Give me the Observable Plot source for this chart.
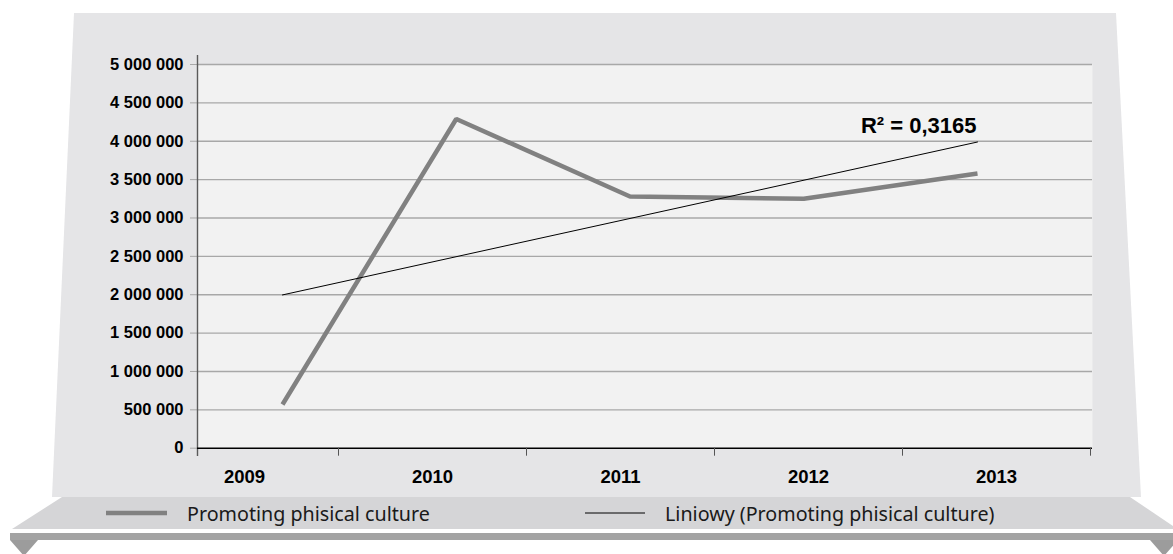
<!DOCTYPE html>
<html>
<head>
<meta charset="utf-8">
<script src="https://cdn.jsdelivr.net/npm/d3@7"></script>
<script src="https://cdn.jsdelivr.net/npm/@observablehq/plot@0.6"></script>
<style>
  html, body { margin: 0; padding: 0; background: #ffffff; }
  #wrap { position: relative; width: 1173px; height: 554px; overflow: hidden; }
  #bg, .layer { position: absolute; left: 0; top: 0; }
  .legend-item { position: absolute; top: 500px; height: 26px; display: flex; align-items: center;
    font-family: "Noto Sans", "Open Sans", sans-serif; font-size: 19.7px; color: #1a1a1a; white-space: nowrap; }
</style>
</head>
<body>
<div id="wrap">
  <svg id="bg" width="1173" height="554">
    <polygon points="74,13 1116,13 1141,497 52,497" fill="#e5e5e7"/>
    <polygon points="62,497 1130,497 1173,526 1173,529 12,529" fill="#d5d5d7"/>
    <rect x="10" y="533" width="1163" height="7" fill="#a3a3a3"/>
    <polygon points="10,540 38,540 24,556" fill="#9c9c9c"/>
    <polygon points="1150,540 1178,540 1164,556" fill="#9c9c9c"/>
  </svg>
</div>
<script>
// ---- data ----
const years = [2009, 2010, 2011, 2012, 2013];
const values = [569000, 4290000, 3280000, 3250000, 3580000];
const yTicks = [0, 500000, 1000000, 1500000, 2000000, 2500000, 3000000, 3500000, 4000000, 4500000, 5000000];
const r2 = 0.3165;
const seriesName = "Promoting phisical culture";
const trendName = "Liniowy (Promoting phisical culture)";

const data = years.map((year, i) => ({year, value: values[i]}));

// ---- layout ----
const W = 1173, H = 497;
const margins = {marginTop: 64, marginBottom: 49.3, marginLeft: 197, marginRight: 81};
const loc = d3.formatLocale({thousands: " ", grouping: [3], decimal: ",", currency: ["", ""]});
const fmt = loc.format(",");
const fmtR2 = loc.format(".4f");

// axis layer: category bands of one year each
const xAxisDomain = [2008.5, 2013.5];
const xAxisRange = [150, 1090];
const xAxisScale = d3.scaleLinear(xAxisDomain, xAxisRange);
const yAxisAt = xAxisScale.invert(margins.marginLeft);
const boundaries = years.map(y => y + 0.5);

const axes = Plot.plot({
  width: W, height: H, ...margins,
  style: {background: "transparent", color: "black", fontFamily: "'Liberation Sans', Arial, sans-serif"},
  x: {domain: xAxisDomain, range: xAxisRange},
  y: {domain: [0, 5000000]},
  marks: [
    Plot.frame({fill: "#f2f2f2", stroke: null}),
    Plot.ruleY(yTicks.filter(d => d > 0), {stroke: "#a8a8a8", strokeWidth: 1.4}),
    Plot.axisY({ticks: yTicks, tickSize: 7, tickPadding: 7, tickFormat: fmt, stroke: "#a8a8a8",
      fontSize: 16.5, fontWeight: "bold", fill: "black"}),
    Plot.ruleX([yAxisAt], {stroke: "#5a5a5a", strokeWidth: 1.4, insetTop: -9, insetBottom: -8.3}),
    Plot.ruleY([0], {stroke: "black", strokeWidth: 1.5}),
    Plot.axisX({ticks: boundaries, tickSize: 8, tickFormat: () => "", stroke: "#555"}),
    Plot.axisX({ticks: years, tickSize: 0, tickPadding: 22, tickFormat: d => String(d),
      fontSize: 18.5, fontWeight: "bold", fill: "black"})
  ]
});
axes.classList.add("layer");

// data layer
const n = years.length;
const mx = d3.mean(years), my = d3.mean(values);
const slope = d3.sum(years, (x, i) => (x - mx) * (values[i] - my)) / d3.sum(years, x => (x - mx) ** 2);
const intercept = my - slope * mx;
const lastYear = years[n - 1];
const labelData = [{year: lastYear, value: intercept + slope * lastYear, text: "R\u00B2 = " + fmtR2(r2)}];

const lines = Plot.plot({
  width: W, height: H, ...margins,
  style: {background: "transparent", fontFamily: "'Liberation Sans', Arial, sans-serif"},
  x: {domain: [2009, 2013], range: [282, 977], axis: null},
  y: {domain: [0, 5000000], axis: null},
  marks: [
    Plot.line(data, {x: "year", y: "value", stroke: "#818181", strokeWidth: 4.5,
      strokeLinejoin: "miter", strokeLinecap: "butt"}),
    Plot.linearRegressionY(data, {x: "year", y: "value", stroke: "black", strokeWidth: 1, ci: 0}),
    Plot.text(labelData, {x: "year", y: "value", text: "text", textAnchor: "end", lineAnchor: "bottom",
      dy: -9, dx: -1, fontSize: 22, fontWeight: "bold", fill: "black"})
  ]
});
lines.classList.add("layer");

const wrap = document.getElementById("wrap");
wrap.appendChild(axes);
wrap.appendChild(lines);

// legend
function legendItem(left, swatchWidth, strokeWidth, color, gap, label) {
  const div = document.createElement("div");
  div.className = "legend-item";
  div.style.left = left + "px";
  div.innerHTML = `<svg width="${swatchWidth}" height="10" style="margin-right:${gap}px"><line x1="0" x2="${swatchWidth}" y1="5" y2="5" stroke="${color}" stroke-width="${strokeWidth}"/></svg><span>${label}</span>`;
  wrap.appendChild(div);
}
legendItem(106, 61, 4.4, "#818181", 20, seriesName);
legendItem(585, 60, 1, "#000000", 20, trendName);
</script>
</body>
</html>
